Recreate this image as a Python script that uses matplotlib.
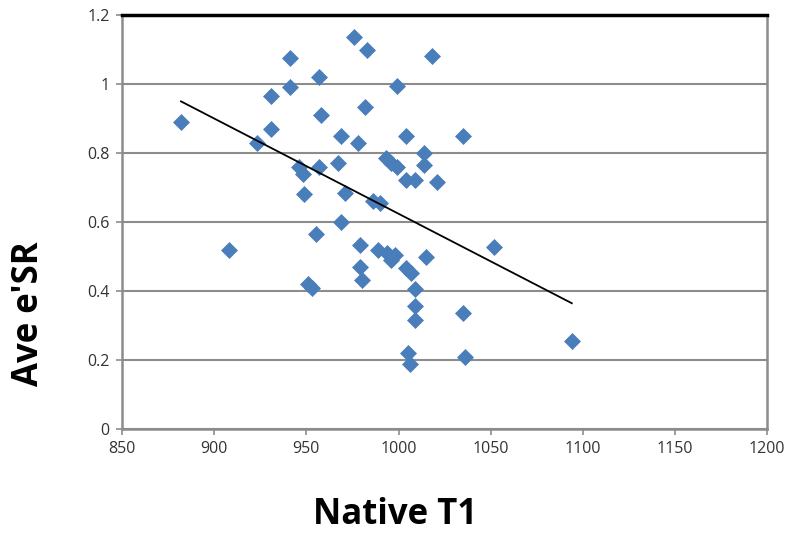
import numpy as np
import matplotlib
matplotlib.use("Agg")
import matplotlib.pyplot as plt

# Native T1 vs average e'SR
native_t1 = [882, 908, 923, 931, 931, 941, 941, 946, 948, 949,
             951, 953, 955, 957, 958, 957, 967, 969, 969, 971,
             976, 978, 982, 979, 979, 980, 983, 986, 990, 989,
             993, 996, 999, 994, 999, 998, 996, 1004, 1004, 1004,
             1005, 1006, 1007, 1009, 1009, 1009, 1009, 1014, 1014, 1015,
             1018, 1021, 1035, 1035, 1036, 1052, 1094]
ave_esr = [0.89, 0.52, 0.83, 0.965, 0.87, 1.075, 0.99, 0.76, 0.74, 0.68,
           0.42, 0.41, 0.565, 1.02, 0.91, 0.76, 0.77, 0.85, 0.60, 0.685,
           1.137, 0.83, 0.932, 0.533, 0.47, 0.432, 1.10, 0.66, 0.655, 0.52,
           0.785, 0.772, 0.76, 0.51, 0.994, 0.504, 0.49, 0.722, 0.85, 0.466,
           0.221, 0.188, 0.453, 0.405, 0.357, 0.316, 0.722, 0.80, 0.765, 0.50,
           1.081, 0.717, 0.85, 0.337, 0.21, 0.527, 0.256]

# linear trendline as drawn in the reference
trend_slope = -0.00276
trend_intercept = 3.384

x_ticks = [850, 900, 950, 1000, 1050, 1100, 1150, 1200]
y_ticks = [0, 0.2, 0.4, 0.6, 0.8, 1, 1.2]
y_labels = ["0", "0.2", "0.4", "0.6", "0.8", "1", "1.2"]

plt.rcParams['font.family'] = ['Open Sans', 'DejaVu Sans']

fig = plt.figure(figsize=(8, 5.42), dpi=100)
ax = fig.add_axes([0.1525, 0.2085, 0.8065, 0.7638])

grid_col = '#8c8c8c'
ax.set_xlim(850, 1200)
ax.set_ylim(0, 1.2)
ax.set_xticks(x_ticks)
ax.set_yticks(y_ticks)
ax.set_yticklabels(y_labels)
ax.grid(axis='y', color=grid_col, linewidth=1.5)
ax.set_axisbelow(True)

for side in ['left', 'bottom', 'right']:
    ax.spines[side].set_color(grid_col)
    ax.spines[side].set_linewidth(1.8)
ax.spines['top'].set_color('black')
ax.spines['top'].set_linewidth(2.5)
ax.tick_params(axis='both', direction='out', length=4, width=1.2, color=grid_col,
               labelsize=11.5, labelcolor='#333333', pad=5)

ax.scatter(native_t1, ave_esr, marker='D', s=75, color='#4a7ebb', zorder=3, linewidths=0)

trend_x = np.array([min(native_t1), max(native_t1)])
ax.plot(trend_x, trend_slope * trend_x + trend_intercept, color='black', linewidth=1.3, zorder=4)

fig.text(0.036, 0.422, "Ave e'SR", rotation=90, fontsize=25, fontweight='bold',
         ha='center', va='center')
fig.text(0.494, 0.05, "Native T1", fontsize=25, fontweight='bold',
         ha='center', va='center')

fig.savefig('out.png', dpi=100)
